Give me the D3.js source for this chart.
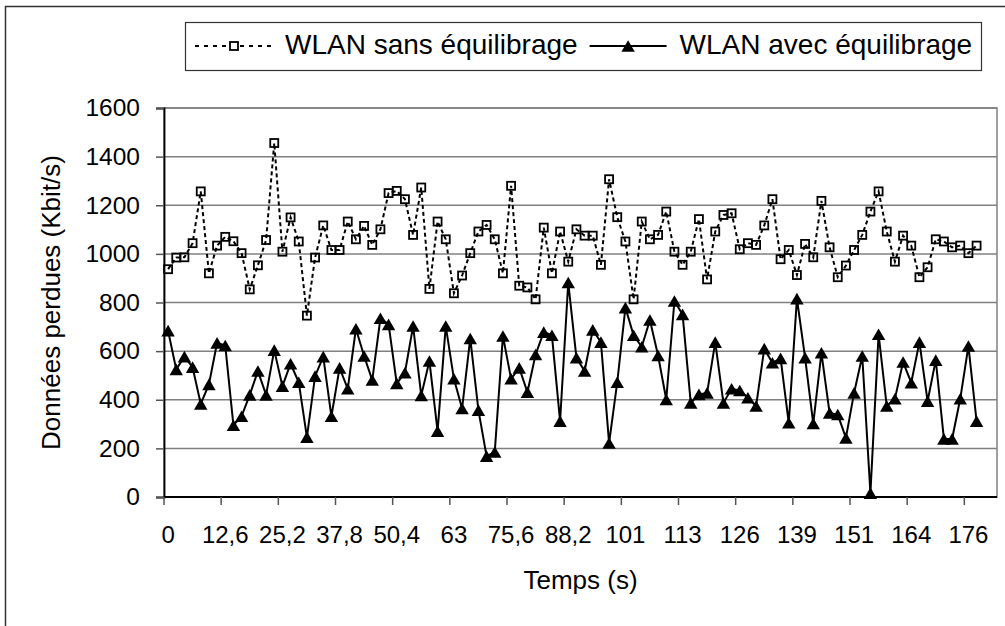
<!DOCTYPE html>
<html>
<head>
<meta charset="utf-8">
<script src="https://cdn.jsdelivr.net/npm/d3@7"></script>
<style>
  body { margin: 0; background: #fff; }
  text { font-family: "Liberation Sans", Arial, sans-serif; fill: #000; }
</style>
</head>
<body>
<svg id="svg" width="1005" height="626"></svg>
<script>
// data, one value per time step (1,8 s)
let sansEquilibrage = [
  937, 985, 986, 1044, 1257, 920, 1034, 1070, 1052, 1003,
  854, 953, 1057, 1456, 1009, 1150, 1051, 746, 985, 1117,
  1016, 1016, 1133, 1060, 1115, 1037, 1101, 1250, 1259, 1225,
  1078, 1273, 856, 1133, 1060, 838, 911, 1003, 1092, 1119,
  1060, 920, 1280, 869, 862, 813, 1108, 920, 1092, 968,
  1101, 1075, 1075, 955, 1307, 1151, 1051, 813, 1133, 1060,
  1078, 1174, 1009, 955, 1009, 1143, 895, 1092, 1160, 1167,
  1019, 1044, 1037, 1117, 1225, 978, 1016, 913, 1041, 986,
  1218, 1027, 904, 952, 1016, 1078, 1174, 1257, 1092, 968,
  1075, 1034, 904, 945, 1060, 1051, 1027, 1034, 1003, 1034
];
let avecEquilibrage = [
  684, 525, 577, 534, 383, 463, 634, 623, 295, 332,
  420, 518, 420, 604, 456, 548, 472, 246, 497, 577,
  332, 531, 445, 692, 580, 481, 735, 710, 467, 511,
  703, 418, 559, 271, 703, 486, 364, 652, 357, 168,
  185, 662, 486, 531, 431, 586, 678, 665, 312, 882,
  573, 518, 687, 637, 222, 472, 779, 665, 618, 728,
  582, 401, 806, 751, 387, 422, 428, 637, 387, 445,
  438, 408, 374, 610, 552, 570, 305, 816, 573, 302,
  593, 346, 339, 243, 428, 580, 16, 669, 374, 404,
  555, 470, 637, 394, 563, 239, 239, 404, 621, 312
];
// category axis: 102 slots, a label every 7 slots
let nCategories = 102;
let labelEvery = 7;
let tickLabels = ["0", "12,6", "25,2", "37,8", "50,4", "63", "75,6", "88,2",
  "101", "113", "126", "139", "151", "164", "176"];
let yTicks = [0, 200, 400, 600, 800, 1000, 1200, 1400, 1600];
let seriesNames = ["WLAN sans équilibrage", "WLAN avec équilibrage"];

let svg = d3.select("#svg");
let plotLeft = 164, plotRight = 997, plotTop = 108, plotBottom = 497;

let x = d3.scaleBand().domain(d3.range(nCategories)).range([plotLeft, plotRight]).paddingInner(0);
let y = d3.scaleLinear().domain([0, 1600]).range([plotBottom, plotTop]);
let cx = (i) => x(i) + x.bandwidth() / 2;

// outer frame
svg.append("rect")
  .attr("x", 5.5).attr("y", 6.5)
  .attr("width", 1010).attr("height", 630)
  .attr("fill", "none").attr("stroke", "#333").attr("stroke-width", 1.5);

// plot area border and gridlines
svg.append("rect")
  .attr("x", plotLeft).attr("y", plotTop)
  .attr("width", plotRight - plotLeft).attr("height", plotBottom - plotTop)
  .attr("fill", "none").attr("stroke", "#808080").attr("stroke-width", 1.5);

svg.append("g")
  .selectAll("line")
  .data(yTicks.slice(1))
  .enter()
  .append("line")
  .attr("x1", plotLeft).attr("x2", plotRight)
  .attr("y1", (d) => y(d)).attr("y2", (d) => y(d))
  .attr("stroke", "#808080").attr("stroke-width", 1.5);

// y axis
let yAxis = svg.append("g")
  .attr("transform", `translate(${plotLeft},0)`)
  .call(d3.axisLeft(y).tickValues(yTicks).tickSize(8).tickPadding(16).tickFormat(d3.format("d")));
yAxis.select(".domain").attr("stroke", "#000").attr("stroke-width", 1.8);
yAxis.selectAll(".tick line").attr("stroke", "#555").attr("stroke-width", 1.5);
yAxis.selectAll("text").style("font-size", "24.5px").attr("font-family", null);

// x axis: ticks on slot borders, labels on slot centres
let xAxis = svg.append("g");
xAxis.append("line")
  .attr("x1", plotLeft).attr("x2", plotRight)
  .attr("y1", plotBottom).attr("y2", plotBottom)
  .attr("stroke", "#000").attr("stroke-width", 1.8);
let labelIdx = tickLabels.map((_, k) => k * labelEvery);
xAxis.selectAll(".xt")
  .data(labelIdx)
  .enter()
  .append("line")
  .attr("class", "xt")
  .attr("x1", (d) => x(d)).attr("x2", (d) => x(d))
  .attr("y1", plotBottom).attr("y2", plotBottom + 8)
  .attr("stroke", "#555").attr("stroke-width", 1.5);
xAxis.selectAll(".xl")
  .data(labelIdx)
  .enter()
  .append("text")
  .attr("class", "xl")
  .attr("x", (d) => cx(d))
  .attr("y", 543)
  .attr("text-anchor", "middle")
  .style("font-size", "24px")
  .text((d, k) => tickLabels[k]);

// axis titles
svg.append("text")
  .attr("x", (plotLeft + plotRight) / 2).attr("y", 589)
  .attr("text-anchor", "middle")
  .style("font-size", "26px")
  .text("Temps (s)");
svg.append("text")
  .attr("transform", `translate(60,${(plotTop + plotBottom) / 2}) rotate(-90)`)
  .attr("text-anchor", "middle")
  .style("font-size", "26px")
  .text("Données perdues (Kbit/s)");

// series lines
let line = d3.line().x((d, i) => cx(i)).y((d) => y(d));
svg.append("path")
  .datum(sansEquilibrage)
  .attr("d", line)
  .attr("fill", "none").attr("stroke", "#000").attr("stroke-width", 2)
  .attr("stroke-dasharray", "4,3");
svg.append("path")
  .datum(avecEquilibrage)
  .attr("d", line)
  .attr("fill", "none").attr("stroke", "#000").attr("stroke-width", 2);

// markers
let tri = d3.symbol().type(d3.symbolTriangle).size(78);
svg.append("g")
  .selectAll("rect")
  .data(sansEquilibrage)
  .enter()
  .append("rect")
  .attr("x", (d, i) => cx(i) - 4).attr("y", (d) => y(d) - 4)
  .attr("width", 8).attr("height", 8)
  .attr("fill", "none").attr("stroke", "#000").attr("stroke-width", 1.8);
svg.append("g")
  .selectAll("path")
  .data(avecEquilibrage)
  .enter()
  .append("path")
  .attr("d", tri)
  .attr("transform", (d, i) => `translate(${cx(i)},${y(d) + 1.9})`)
  .attr("fill", "#000");

// legend
let legend = svg.append("g");
legend.append("rect")
  .attr("x", 185.5).attr("y", 22.5)
  .attr("width", 796).attr("height", 48)
  .attr("fill", "#fff").attr("stroke", "#333").attr("stroke-width", 1.2);
let ly = 46;
legend.append("line")
  .attr("x1", 195).attr("x2", 272).attr("y1", ly).attr("y2", ly)
  .attr("stroke", "#000").attr("stroke-width", 2).attr("stroke-dasharray", "4,5");
legend.append("rect")
  .attr("x", 230).attr("y", ly - 4).attr("width", 8).attr("height", 8)
  .attr("fill", "#fff").attr("stroke", "#000").attr("stroke-width", 1.8);
let t1 = legend.append("text")
  .attr("x", 285).attr("y", 54)
  .style("font-size", "28px")
  .text(seriesNames[0]);
let x2 = 285 + t1.node().getComputedTextLength() + 12;
legend.append("line")
  .attr("x1", x2).attr("x2", x2 + 77).attr("y1", ly).attr("y2", ly)
  .attr("stroke", "#000").attr("stroke-width", 2);
legend.append("path")
  .attr("d", tri)
  .attr("transform", `translate(${x2 + 38.5},${ly + 1.9})`)
  .attr("fill", "#000");
legend.append("text")
  .attr("x", x2 + 90).attr("y", 54)
  .style("font-size", "28px")
  .text(seriesNames[1]);
</script>
</body>
</html>
